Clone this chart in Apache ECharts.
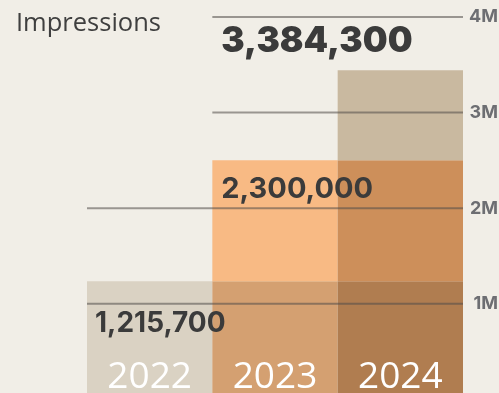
<!DOCTYPE html>
<html>
<head>
<meta charset="utf-8">
<script src="https://cdn.jsdelivr.net/npm/echarts@6/dist/echarts.min.js"></script>
<style>
html,body{margin:0;padding:0;background:#f1eee7;}
#c{width:499px;height:393px;}
</style>
</head>
<body>
<div id="c"></div>
<script>
// ---- data ----
var categories = ['2022', '2023', '2024'];
var printedValues = [1215700, 2300000, 3384300];      // numbers printed on the chart
var barValues = [1237000, 2501000, 3442000];          // bar heights as read against the axis
var yTicks = [1000000, 2000000, 3000000, 4000000];
var yTickLabels = ['1M', '2M', '3M', '4M'];
var gridStartCategory = [0, 0, 1, 1];                 // which column each gridline starts at
var titleText = 'Impressions';

// ---- build ----
var layerColors = [
  ['#dad2c3', '#d4a071', '#b07d50'],
  [null, '#f8ba84', '#cd8f5a'],
  [null, null, '#c9b9a0']
];

var barSeries = categories.map(function (_, k) {
  var data = categories.map(function (_, j) {
    if (j < k) return '-';
    var base = k > 0 ? barValues[k - 1] : 0;
    return { value: barValues[k] - base, itemStyle: { color: layerColors[k][j] } };
  });
  return {
    type: 'bar', stack: 'total', barWidth: '100%', barCategoryGap: '0%',
    data: data, z: 2, silent: true
  };
});

var gridData = yTicks.map(function (v, i) { return [gridStartCategory[i], v]; });

var labelStyle = [
  { dx: 8, dy: 42, size: 28, weight: 'bold', fromCat: 0 },
  { dx: 9, dy: 28.5, size: 29, weight: 'bold', fromCat: 1 },
  { dx: 9, dy: -28.5, size: 35, weight: 900, fromCat: 1 }
];

var chart = echarts.init(document.getElementById('c'), null, { renderer: 'canvas' });
chart.setOption({
  backgroundColor: '#f1eee7',
  animation: false,
  title: {
    text: titleText, left: 16, top: 11, padding: 0,
    textStyle: { fontFamily: 'Open Sans', fontWeight: 'normal', fontSize: 25.5, color: '#3f3f3f' }
  },
  grid: { left: 87, right: 36, top: 17, height: 382.4, containLabel: false, outerBoundsMode: 'none' },
  xAxis: {
    type: 'category', data: categories, boundaryGap: true,
    axisLine: { show: false }, axisTick: { show: false },
    axisLabel: {
      inside: true, margin: 22, verticalAlign: 'middle',
      color: '#ffffff', fontFamily: 'Open Sans', fontSize: 37, fontWeight: 'normal'
    },
    z: 10
  },
  yAxis: {
    type: 'value', min: 0, max: 4000000, interval: 1000000, position: 'right',
    axisLine: { show: false }, axisTick: { show: false }, splitLine: { show: false },
    axisLabel: {
      margin: 35, align: 'right', color: '#6d6e72', fontFamily: 'Inter', fontWeight: 'bold', fontSize: 18,
      formatter: function (v) { var i = yTicks.indexOf(v); return i >= 0 ? yTickLabels[i] : ''; }
    }
  },
  series: barSeries.concat([
    {
      type: 'custom', z: 5, silent: true,
      data: gridData,
      renderItem: function (params, api) {
        var v = api.value(1);
        var p = api.coord([api.value(0), v]);
        var bw = api.size([1, 0])[0];
        var pe = api.coord([categories.length - 1, v]);
        return {
          type: 'line',
          shape: { x1: p[0] - bw / 2, y1: p[1], x2: pe[0] + bw / 2, y2: p[1] },
          style: { stroke: 'rgba(80,76,72,0.55)', lineWidth: 2 }
        };
      }
    },
    {
      type: 'custom', z: 8, silent: true,
      data: categories.map(function (c, i) { return [i, barValues[i]]; }),
      renderItem: function (params, api) {
        var i = params.dataIndex;
        var s = labelStyle[i];
        var bw = api.size([1, 0])[0];
        var top = api.coord([i, api.value(1)])[1];
        var anchor = api.coord([s.fromCat, 0])[0] - bw / 2;
        return {
          type: 'text',
          x: anchor + s.dx, y: top + s.dy,
          style: {
            text: printedValues[i].toLocaleString('en-US'),
            fill: '#3b3b3b', font: s.weight + ' ' + s.size + 'px Inter',
            textAlign: 'left', textVerticalAlign: 'middle'
          }
        };
      }
    }
  ])
});
</script>
</body>
</html>
